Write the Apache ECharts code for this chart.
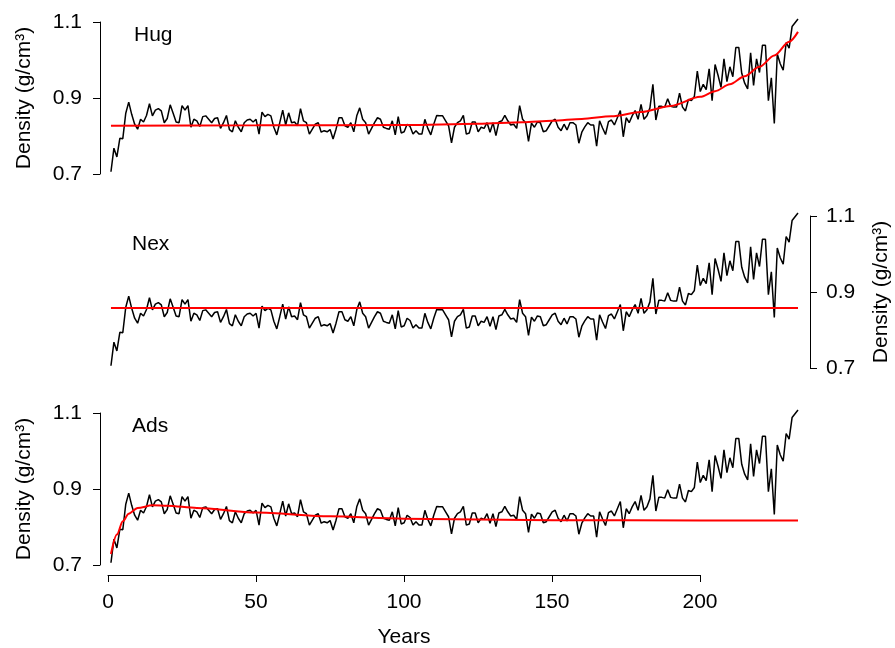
<!DOCTYPE html>
<html>
<head>
<meta charset="utf-8">
<script src="https://cdn.jsdelivr.net/npm/echarts@6/dist/echarts.min.js"></script>
<style>
html, body { margin: 0; padding: 0; background: #fff; }
#main { width: 895px; height: 648px; }
</style>
</head>
<body>
<div id="main"></div>
<script>
// ring density series (same record shown in all three panels)
var density = [
    0.706, 0.768, 0.745, 0.794, 0.793, 0.860, 0.889, 0.857, 0.831, 0.818,
    0.844, 0.837, 0.854, 0.885, 0.853, 0.868, 0.872, 0.866, 0.835, 0.846,
    0.882, 0.860, 0.837, 0.835, 0.880, 0.868, 0.880, 0.823, 0.844, 0.840,
    0.825, 0.851, 0.853, 0.844, 0.835, 0.846, 0.848, 0.820, 0.835, 0.854,
    0.817, 0.811, 0.840, 0.823, 0.811, 0.835, 0.842, 0.844, 0.837, 0.844,
    0.805, 0.863, 0.851, 0.857, 0.853, 0.823, 0.803, 0.835, 0.868, 0.829,
    0.861, 0.835, 0.837, 0.827, 0.872, 0.840, 0.835, 0.805, 0.818, 0.831,
    0.835, 0.810, 0.814, 0.811, 0.817, 0.792, 0.818, 0.848,
    0.848, 0.827, 0.823, 0.835, 0.811, 0.853, 0.874, 0.844, 0.835, 0.805,
    0.820, 0.835, 0.848, 0.844, 0.823, 0.820, 0.818, 0.840, 0.803, 0.851,
    0.808, 0.811, 0.831, 0.825, 0.805, 0.814, 0.805, 0.805, 0.844, 0.820,
    0.803, 0.831, 0.854, 0.853, 0.853, 0.840, 0.827, 0.782, 0.823, 0.835,
    0.840, 0.854, 0.805, 0.808, 0.837, 0.837, 0.811, 0.823, 0.820, 0.835,
    0.810, 0.835, 0.801, 0.837, 0.840, 0.854, 0.840, 0.829, 0.831, 0.820,
    0.880, 0.844, 0.835, 0.786, 0.834, 0.823, 0.837, 0.835, 0.811, 0.814,
    0.827, 0.840, 0.844, 0.823, 0.814,
    0.831, 0.816, 0.835, 0.835, 0.829, 0.781, 0.810, 0.824, 0.835, 0.829,
    0.829, 0.773, 0.840, 0.821, 0.804, 0.838, 0.842, 0.829, 0.848, 0.867,
    0.798, 0.848, 0.835, 0.853, 0.867, 0.844, 0.883, 0.844, 0.853, 0.874,
    0.936, 0.842, 0.878, 0.878, 0.876, 0.898, 0.878, 0.876, 0.876, 0.913,
    0.876, 0.866, 0.896, 0.893, 0.904, 0.971, 0.917, 0.936, 0.922, 0.977,
    0.893, 0.988, 0.960, 0.928, 1.003, 0.943, 0.982, 0.956, 1.033, 1.033,
    0.965, 0.939, 0.924, 1.019, 0.933, 1.003, 0.967, 1.039, 1.039, 0.893,
    0.953, 0.833, 1.016, 0.990, 0.973, 1.046, 1.031, 1.088, 1.098, 1.108
];
var years = [];
for (var i = 1; i <= density.length; i++) years.push(i);

// fitted curves (red)
var hugYears = [1, 50, 100, 125, 140, 150, 160, 170, 180, 190, 200, 205, 210, 215, 220, 225, 230, 233];
var hugFit = [0.827, 0.828, 0.829, 0.832, 0.836, 0.840, 0.845, 0.852, 0.863, 0.879, 0.903, 0.918, 0.936, 0.957, 0.982, 1.012, 1.048, 1.074];
var nexYears = [1, 233];
var nexFit = [0.858, 0.858];
var adsYears = [1, 3, 5, 7, 10, 15, 20, 30, 50, 75, 100, 150, 200, 233];
var adsFit = [0.729, 0.780, 0.815, 0.835, 0.850, 0.857, 0.856, 0.850, 0.838, 0.828, 0.822, 0.818, 0.817, 0.817];

var panelNames = ['Hug', 'Nex', 'Ads'];
var yName = 'Density (g/cm³)';
var xName = 'Years';

var font = 'Liberation Sans, Arial, sans-serif';

function pairs(xs, ys) {
    var out = [];
    for (var k = 0; k < xs.length; k++) out.push([xs[k], ys[k]]);
    return out;
}

var myChart = echarts.init(document.getElementById('main'));

var tops = [22, 216, 413];
var grids = [], xAxes = [], yAxes = [], series = [], titles = [];
var fits = [[hugYears, hugFit], [nexYears, nexFit], [adsYears, adsFit]];
var titleTops = [20, 229, 411];

for (var p = 0; p < 3; p++) {
    grids.push({ left: 108, width: 690, top: tops[p], height: 152, outerBoundsMode: 'none' });
    xAxes.push({ type: 'value', gridIndex: p, min: 0, max: 233, show: false });
    var right = (p === 1);
    yAxes.push({
        type: 'value',
        gridIndex: p,
        min: 0.7,
        max: 1.1,
        interval: 0.2,
        position: right ? 'right' : 'left',
        offset: right ? 12 : 8,
        name: yName,
        nameLocation: 'middle',
        nameRotate: 90,
        nameGap: right ? 61 : 65,
        nameTextStyle: { fontFamily: font, fontSize: 21, color: '#000' },
        splitLine: { show: false },
        axisLine: { show: true, onZero: false, lineStyle: { color: '#000', width: 1 } },
        axisTick: { show: true, length: 7, lineStyle: { color: '#000', width: 1 } },
        axisLabel: {
            margin: right ? 16 : 18,
            fontFamily: font,
            fontSize: 21,
            color: '#000',
            formatter: function (v) { return v.toFixed(1); }
        }
    });
    series.push({
        type: 'line',
        xAxisIndex: p,
        yAxisIndex: p,
        data: pairs(years, density),
        showSymbol: false,
        clip: false,
        lineStyle: { color: '#000', width: 1.5 },
        silent: true
    });
    series.push({
        type: 'line',
        xAxisIndex: p,
        yAxisIndex: p,
        data: pairs(fits[p][0], fits[p][1]),
        showSymbol: false,
        smooth: 0.3,
        smoothMonotone: 'x',
        clip: false,
        lineStyle: { color: '#ff0000', width: 2 },
        silent: true
    });
    titles.push({
        text: panelNames[p],
        left: p === 0 ? 129 : 127,
        top: titleTops[p],
        textStyle: { fontFamily: font, fontSize: 21, fontWeight: 'normal', color: '#000' }
    });
}

// bottom x axis, drawn only over 0..200 like the original
grids.push({ left: 108, width: 592, top: 570, height: 5, outerBoundsMode: 'none' });
xAxes.push({
    type: 'value',
    gridIndex: 3,
    min: 0,
    max: 200,
    interval: 50,
    position: 'bottom',
    name: xName,
    nameLocation: 'middle',
    nameGap: 52,
    nameTextStyle: { fontFamily: font, fontSize: 21, color: '#000' },
    splitLine: { show: false },
    axisLine: { show: true, onZero: false, lineStyle: { color: '#000', width: 1 } },
    axisTick: { show: true, length: 7, lineStyle: { color: '#000', width: 1 } },
    axisLabel: { margin: 17, fontFamily: font, fontSize: 21, color: '#000' }
});
yAxes.push({ type: 'value', gridIndex: 3, show: false });

var option = {
    backgroundColor: '#fff',
    animation: false,
    title: titles,
    grid: grids,
    xAxis: xAxes,
    yAxis: yAxes,
    series: series
};
myChart.setOption(option);
</script>
</body>
</html>
